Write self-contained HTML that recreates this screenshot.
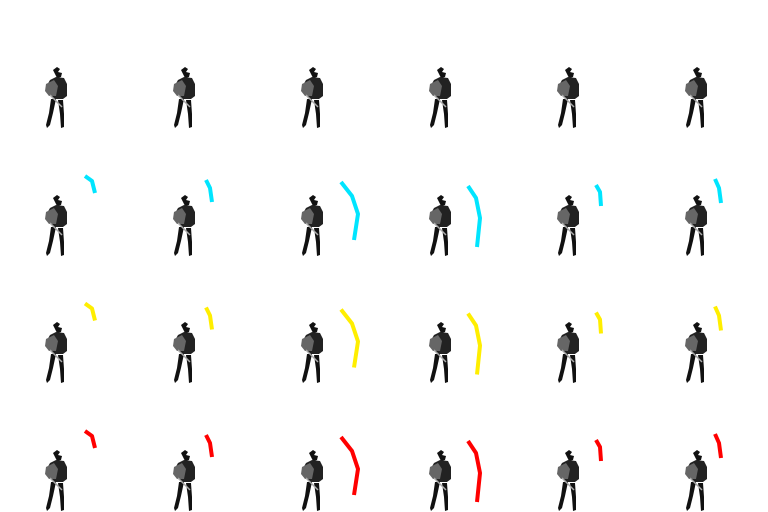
<!DOCTYPE html>
<html><head><meta charset="utf-8"><style>
html,body{margin:0;padding:0;background:#fff;width:768px;height:512px;overflow:hidden;font-family:"Liberation Sans",sans-serif}
</style></head><body>
<svg id="chart" width="768" height="512" viewBox="0 0 768 512" xmlns="http://www.w3.org/2000/svg">
<defs>
<g id="fig">
  <path d="M53 70 l4 -3 l3 2 l-2 3 l4 1 l-1 4 l-4 1 z" fill="#111"/>
  <path d="M50 80 l6 -3 l8 1 l3 6 l0 12 l-4 3 l-10 0 l-4 -6 l-3 -6 z" fill="#222"/>
  <path d="M46 84 l8 -4 l4 6 l-2 10 l-7 0 l-4 -5 z" fill="#666"/>
  <path d="M51 99 l5 0 l-3 14 l-3 12 l-3 3 l-1 -3 l3 -12 z" fill="#111"/>
  <path d="M58 100 l5 0 l1 14 l0 13 l-3 1 l-1 -14 z" fill="#111"/>
  <path d="M50 95 l12 12" stroke="#aaa" stroke-width="1.5"/>
</g>
</defs>
</svg>
<script>
const colCount = 6;
const rowColors = ["#00e5ff", "#ffee00", "#ff0000"];
const curveXs = [[85,92,95],[206,210,212],[341,352,358,354],[468,476,480,477],[596,600,601],[715,719,721]];
const curveYs = [[176,181,193],[180,188,202],[182,196,214,240],[186,198,218,247],[185,192,206],[179,188,203]];
const svg = document.getElementById('chart');
const NS = "http://www.w3.org/2000/svg";
const cellW = 128, cellH = 127.5;
for (let r = 0; r < 4; r++) {
  for (let c = 0; c < colCount; c++) {
    const u = document.createElementNS(NS, 'use');
    u.setAttribute('href', '#fig');
    u.setAttribute('transform', `translate(${c*cellW},${Math.round(r*cellH)})`);
    
    
    svg.appendChild(u);
    if (r > 0) {
      const dy = (r - 1) * cellH;
      const d = curveXs[c].map((x, i) => (i ? 'L' : 'M') + x + ' ' + (curveYs[c][i] + dy)).join(' ');
      const p = document.createElementNS(NS, 'path');
      p.setAttribute('d', d);
      p.setAttribute('fill', 'none');
      p.setAttribute('stroke', rowColors[r-1]);
      p.setAttribute('stroke-width', '4');
      p.setAttribute('stroke-linejoin', 'round');
      
      
      svg.appendChild(p);
    }
  }
}
</script>
</body></html>
